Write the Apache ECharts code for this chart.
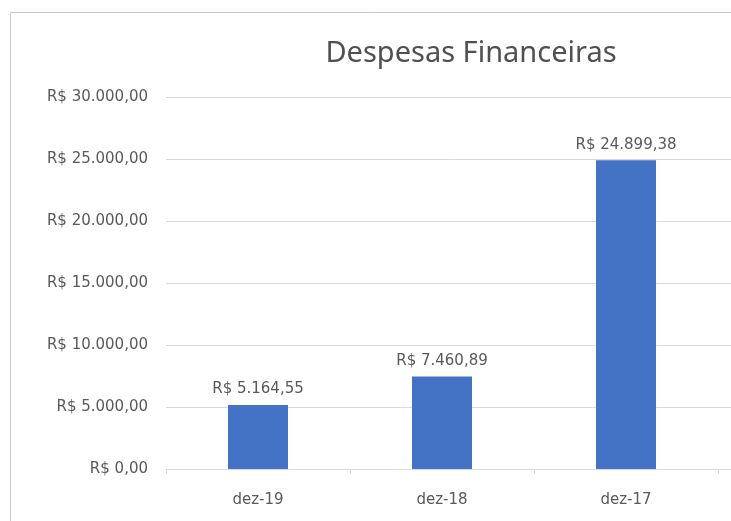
<!DOCTYPE html>
<html>
<head>
<meta charset="utf-8">
<script src="https://cdn.jsdelivr.net/npm/echarts@6/dist/echarts.min.js"></script>
<style>html,body{margin:0;padding:0;background:#fff}#c{width:731px;height:521px}</style>
</head>
<body>
<div id="c"></div>
<script>
const categories = ['dez-19', 'dez-18', 'dez-17'];
const values = [5164.55, 7460.89, 24899.38];
const yMin = 0, yMax = 30000, yStep = 5000;
const titleText = 'Despesas Financeiras';

function brl(v) {
  const fixed = Math.abs(v).toFixed(2);
  const parts = fixed.split('.');
  const intPart = parts[0].replace(/\B(?=(\d{3})+(?!\d))/g, '.');
  return 'R$ ' + (v < 0 ? '-' : '') + intPart + ',' + parts[1];
}

const TFONT = '"Noto Sans", sans-serif';
const FONT = '"DejaVu Sans", sans-serif';
const TXT = '#595959';
const GRIDC = '#d9d9d9';

const chart = echarts.init(document.getElementById('c'), null, {renderer: 'canvas'});
chart.setOption({
  animation: false,
  backgroundColor: '#fff',
  title: {
    text: titleText,
    left: 466, top: 34, textAlign: 'center',
    textStyle: {fontFamily: TFONT, fontSize: 29, fontWeight: 'normal', color: '#505050'}
  },
  graphic: [{
    type: 'rect', z: -1, silent: true,
    shape: {x: 10.5, y: 12.5, width: 900, height: 700},
    style: {fill: 'none', stroke: '#c8c8c8', lineWidth: 1}
  }],
  grid: [
    {left: 166, right: 13, top: 97, bottom: 52},
    {left: 166, right: 0, top: 97, bottom: 52}
  ],
  xAxis: [
    {
      type: 'category', gridIndex: 0, data: categories,
      axisLine: {show: true, lineStyle: {color: GRIDC}},
      axisTick: {show: true, length: 5, lineStyle: {color: GRIDC}},
      axisLabel: {color: TXT, fontFamily: FONT, fontSize: 15, margin: 24}
    },
    {
      type: 'value', gridIndex: 1, show: false
    }
  ],
  yAxis: [
    {
      type: 'value', gridIndex: 0, min: yMin, max: yMax, interval: yStep,
      axisLine: {show: false}, axisTick: {show: false},
      splitLine: {show: false},
      axisLabel: {color: TXT, fontFamily: FONT, fontSize: 15, margin: 18, padding: [5, 0, 0, 0], formatter: brl}
    },
    {
      type: 'value', gridIndex: 1, min: yMin, max: yMax, interval: yStep,
      axisLine: {show: false}, axisTick: {show: false}, axisLabel: {show: false},
      splitLine: {show: true, lineStyle: {color: GRIDC, width: 1}}
    }
  ],
  series: [{
    type: 'bar', xAxisIndex: 0, yAxisIndex: 0,
    data: values, barWidth: 60,
    itemStyle: {color: '#4472C4'},
    label: {
      show: true, position: 'top', distance: 8,
      color: TXT, fontFamily: FONT, fontSize: 15,
      formatter: p => brl(p.value)
    }
  }]
});
</script>
</body>
</html>
